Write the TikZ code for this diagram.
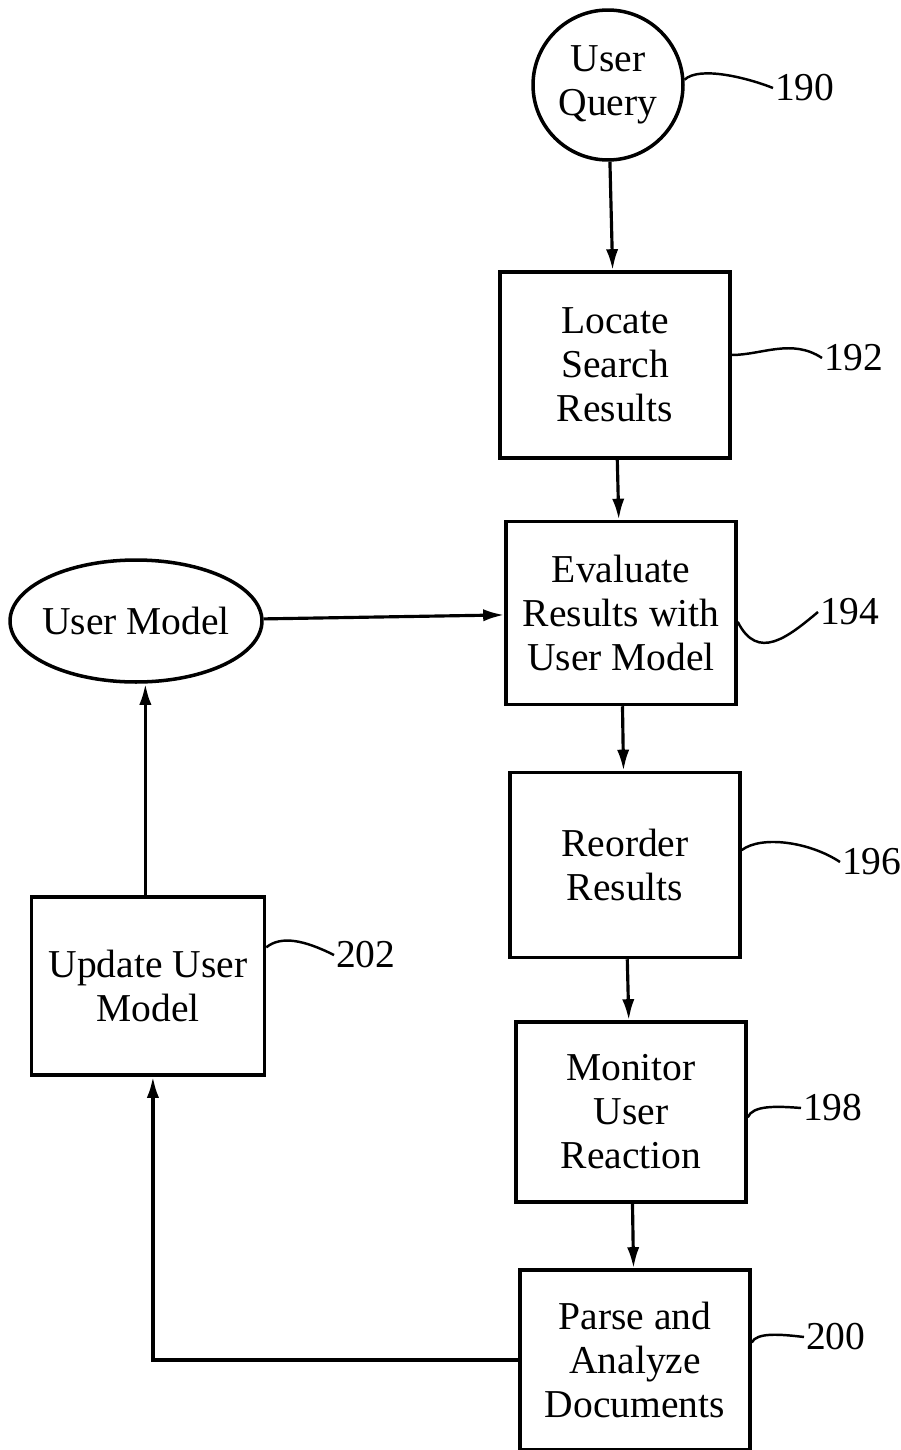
\documentclass[tikz,border=0pt]{standalone}
\usepackage{fontspec}
\setmainfont{Liberation Serif}
\usepackage{tikz}
\usetikzlibrary{positioning,shapes.geometric,arrows.meta}

\tikzset{
  stepbox/.style={draw,line width=2pt,minimum width=4.6cm,minimum height=3.66cm,align=center,inner sep=2pt},
  flow/.style={line width=1.8pt,-{Latex[length=12pt,width=7pt]}},
  lead/.style={line width=1.4pt},
  refnum/.style={inner sep=1pt}
}

\begin{document}
\begin{tikzpicture}[x=0.02cm,y=-0.02cm,font=\fontsize{22.5}{25}\selectfont]
\useasboundingbox (0,0) rectangle (901,1450);
% process chain
\node[draw,circle,line width=2pt,minimum size=3cm,align=center,inner sep=0pt] (query) at (608,85) {User\\Query};
\node[stepbox,minimum height=3.72cm] (locate) at (615,365) {Locate\\Search\\Results};
\node[stepbox] (evaluate) at (621,613) {Evaluate\\Results with\\User Model};
\node[stepbox,minimum height=3.7cm] (reorder) at (625,865) {Reorder\\Results};
\node[stepbox,minimum height=3.6cm] (monitor) at (631,1112) {Monitor\\User\\Reaction};
\node[stepbox,minimum height=3.6cm] (parse) at (635,1360) {Parse and\\Analyze\\Documents};
% user model loop
\node[draw,ellipse,line width=2pt,minimum width=5.04cm,minimum height=2.44cm,inner ysep=0pt,inner xsep=-9pt] (umodel) at (136,621) {User Model};
\node[stepbox,minimum width=4.66cm,minimum height=3.56cm] (update) at (148,986) {Update User\\Model};

\draw[flow] (query) -- (locate);
\draw[flow] (locate) -- (evaluate);
\draw[flow] (evaluate) -- (reorder);
\draw[flow] (reorder) -- (monitor);
\draw[flow] (monitor) -- (parse);
\draw[flow] (umodel) -- (evaluate);
\draw[flow] (parse.west) -| ([xshift=2.8pt]update.south);
\draw[flow] ([xshift=-1.5pt]update.north) -- ([xshift=-1.5pt]update.north |- umodel.south);

% reference numerals
\node[refnum,anchor=west] (n190) at (773,88) {190};
\node[refnum,anchor=west] (n192) at (822,358) {192};
\node[refnum,anchor=west] (n194) at (818,612) {194};
\node[refnum,anchor=west] (n196) at (840,862) {196};
\node[refnum,anchor=west] (n198) at (801,1108) {198};
\node[refnum,anchor=west] (n200) at (804,1337) {200};
\node[refnum,anchor=west] (n202) at (334,955) {202};

\draw[lead] (query.4) .. controls +(15,-14) and +(-25,-10) .. (n190.west);
\draw[lead] ([yshift=5.7pt]locate.east) .. controls +(30,0) and +(-30,-20) .. (n192.west);
\draw[lead] ([yshift=-5pt]evaluate.east) .. controls +(20,40) and +(-30,25) .. (n194.west);
\draw[lead] ([yshift=8.5pt]reorder.east) .. controls +(20,-15) and +(-30,-20) .. (n196.west);
\draw[lead] ([yshift=-3pt]monitor.east) .. controls +(5,-12) and +(-25,-2) .. (n198.west);
\draw[lead] ([yshift=10pt]parse.east) .. controls +(5,-10) and +(-25,-3) .. (n200.west);
\draw[lead] ([yshift=22pt]update.east) .. controls +(15,-12) and +(-30,-15) .. (n202.west);
\end{tikzpicture}
\end{document}
